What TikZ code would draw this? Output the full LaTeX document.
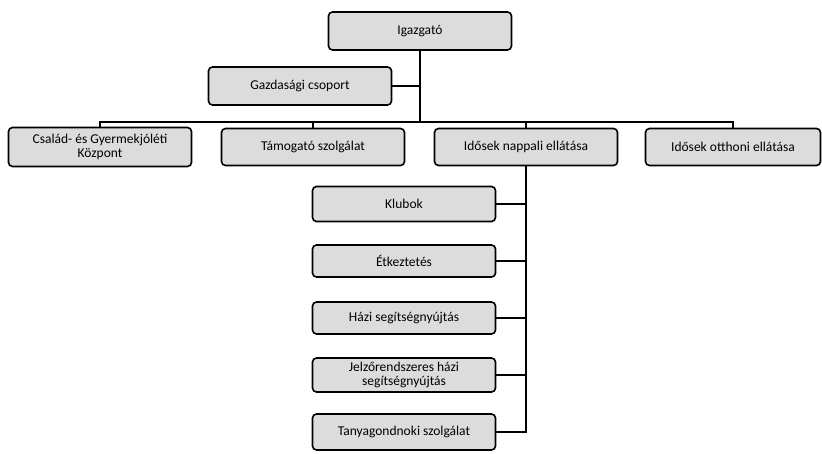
\documentclass[tikz,border=0pt]{standalone}
\usepackage{fontspec}
\setmainfont{Carlito}
\usepackage{xcolor}
\definecolor{mygray}{HTML}{DCDCDC}
\usepackage{tikz}
\tikzstyle{block} = [rectangle, draw, line width=1.6pt,
fill=mygray, align=center, rounded corners=4pt, minimum width=183pt, minimum height=37pt, inner sep=2pt, font=\fontsize{13.5}{14}\selectfont]
\tikzstyle{line} = [draw, line width=2.6pt]

\begin{document}
\begin{tikzpicture}[x=1pt, y=-1pt, node distance=213pt]
    \useasboundingbox (0,0) rectangle (822,454);

    % Nodes
    \node [block, minimum height=38pt] (igazgato) at (420,31) {Igazgató};
    \node [block, minimum height=38pt] (gazdasagi) at (300,86) {Gazdasági csoport};
    \node [block, minimum height=39pt] (csaladsegito) at (100,147) {Család- és Gyermekjóléti\\Központ};
    \node [block, right of=csaladsegito] (tamogato) {Támogató szolgálat};
    \node [block, right of=tamogato] (nappali) {Idősek nappali ellátása};
    \node [block, right of=nappali, xshift=-6pt, minimum width=175pt] (otthoni) {Idősek otthoni ellátása};

    % sub items, placed below each other
    \begin{scope}[node distance=57pt]
    \node [block, minimum height=35pt] (klub) at (404,204) {Klubok};
    \node [block, minimum height=32pt, below of=klub] (etkeztetes) {Étkeztetés};
    \node [block, minimum height=32pt, below of=etkeztetes] (hazi) {Házi segítségnyújtás};
    \node [block, minimum height=34pt, below of=hazi] (jelzo) {Jelzőrendszeres házi\\segítségnyújtás};
    \node [block, minimum height=36pt, below of=jelzo] (tanya) {Tanyagondnoki szolgálat};
    \end{scope}

    % branch points
    \coordinate (elosztas) at (igazgato.south |- 0,122);

    % connectors
    \path[line] (igazgato.south) -- (elosztas);
    \path[line] (gazdasagi.east) -- (gazdasagi.east -| elosztas);
    \path[line, line width=2pt] (csaladsegito.north) |- (elosztas) -| (otthoni.north);
    \path[line] (tamogato.north) -- (tamogato.north |- elosztas);
    \path[line] (nappali.north) -- (nappali.north |- elosztas);
    \path[line] (nappali.south) |- (tanya.east);
    \foreach \n in {klub, etkeztetes, hazi, jelzo}
        \path[line] (\n.east) -- (\n.east -| nappali.south);

\end{tikzpicture}
\end{document}
